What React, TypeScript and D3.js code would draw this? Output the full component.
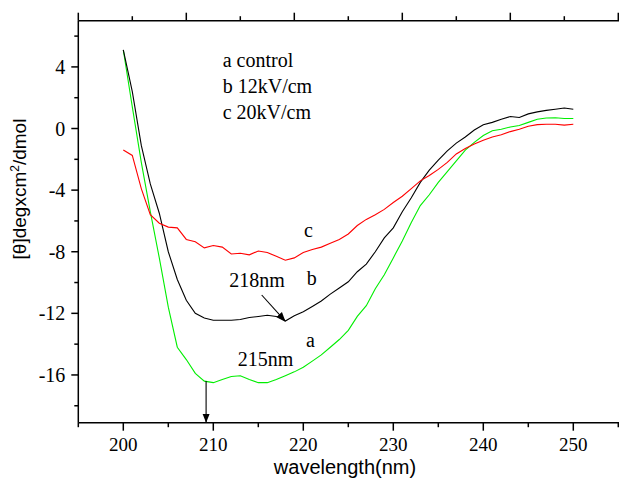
import React from "react";
import * as d3 from "d3";

const wavelengths = d3.range(200, 251);
const seriesA = [5.1, 1.4, -2.2, -5.4, -8.4, -11.6, -14.2, -15.0, -15.9, -16.4, -16.5, -16.3, -16.1, -16.05, -16.3, -16.5, -16.5, -16.3, -16.05, -15.8, -15.5, -15.1, -14.7, -14.2, -13.7, -13.1, -12.2, -11.5, -10.4, -9.5, -8.4, -7.3, -6.1, -5.0, -4.3, -3.5, -2.8, -2.1, -1.4, -0.9, -0.45, -0.15, -0.05, 0.1, 0.2, 0.4, 0.6, 0.68, 0.7, 0.65, 0.65];
const seriesB = [5.1, 2.4, -1.1, -3.6, -5.5, -8.0, -9.8, -11.15, -12.0, -12.3, -12.45, -12.45, -12.45, -12.4, -12.27, -12.2, -12.12, -12.2, -12.5, -12.15, -11.9, -11.55, -11.2, -10.75, -10.35, -9.95, -9.3, -8.8, -8.0, -7.1, -6.45, -5.4, -4.5, -3.5, -2.7, -2.05, -1.45, -0.95, -0.55, -0.1, 0.25, 0.4, 0.6, 0.78, 0.72, 0.95, 1.08, 1.18, 1.25, 1.33, 1.25];
const seriesC = [-1.4, -1.75, -3.9, -5.6, -6.15, -6.4, -6.45, -7.2, -7.35, -7.75, -7.6, -7.7, -8.15, -8.1, -8.2, -7.95, -8.05, -8.3, -8.55, -8.4, -8.05, -7.85, -7.7, -7.45, -7.2, -6.85, -6.3, -5.9, -5.6, -5.25, -4.8, -4.4, -3.9, -3.4, -3.05, -2.65, -2.2, -1.65, -1.3, -1.0, -0.76, -0.55, -0.4, -0.2, -0.05, 0.15, 0.25, 0.28, 0.28, 0.22, 0.28];
const seriesColors = ["#00ee00", "#000000", "#ff0000"];

const xTicks = [200, 210, 220, 230, 240, 250];
const xMinor = [195, 205, 215, 225, 235, 245, 255];
const topMajor = [195, 207, 219, 231, 243, 255];
const topMinor = [201, 213, 225, 237, 249];
const yTicks = [4, 0, -4, -8, -12, -16];
const yMinor = [6, 2, -2, -6, -10, -14, -18];

const legendLines = ["a control", "b 12kV/cm", "c 20kV/cm"];

const SERIF = "'Liberation Serif', 'Times New Roman', serif";
const SANS = "'Liberation Sans', Arial, sans-serif";

export default function App() {
  const W = 619, H = 484;
  const x = d3.scaleLinear().domain([195, 255]).range([78.3, 618.3]);
  const y = d3.scaleLinear().domain([-19.1, 7]).range([422.7, 20.7]);
  const line = d3.line<number>().x((_, i) => x(wavelengths[i])).y((d) => y(d));
  const [y0, y1] = y.range();
  const [x0, x1] = [x(195), W];
  const ax = { stroke: "#000", strokeWidth: 1.5 };

  const arrow1From = [261.7, 295];
  const arrowTip1 = [x(218), y(-12.5)];
  const arrowX2 = x(209.2);

  return (
    <svg width={W} height={H} style={{ position: "absolute", left: 0, top: 0, background: "#fff" }}>
      <defs>
        <marker id="ah" viewBox="0 0 10 10" refX="10" refY="5" markerWidth="9" markerHeight="9" markerUnits="userSpaceOnUse" orient="auto">
          <path d="M0,1 L10,5 L0,9 Z" fill="#000" />
        </marker>
      </defs>
      {[seriesA, seriesB, seriesC].map((s, i) => (
        <path key={i} d={line(s) || ""} fill="none" stroke={seriesColors[i]} strokeWidth={1.1} />
      ))}
      <line x1={x0} x2={x1} y1={y0} y2={y0} {...ax} />
      <line x1={x0} x2={x1} y1={y1} y2={y1} {...ax} />
      <line x1={x0} x2={x0} y1={y1} y2={y0} {...ax} />
      {xTicks.map((t) => (
        <g key={"bx" + t}>
          <line x1={x(t)} x2={x(t)} y1={y0} y2={y0 + 8} {...ax} />
          <text x={x(t)} y={y0 + 28} textAnchor="middle" fontFamily={SERIF} fontSize={19}>{t}</text>
        </g>
      ))}
      {xMinor.map((t) => (
        <line key={"bm" + t} x1={x(t)} x2={x(t)} y1={y0} y2={y0 + 4.5} {...ax} />
      ))}
      {topMajor.map((t) => (
        <line key={"tm" + t} x1={x(t)} x2={x(t)} y1={y1} y2={y1 - 8} {...ax} />
      ))}
      {topMinor.map((t) => (
        <line key={"tn" + t} x1={x(t)} x2={x(t)} y1={y1} y2={y1 - 4.5} {...ax} />
      ))}
      {yTicks.map((t) => (
        <g key={"ly" + t}>
          <line x1={x0} x2={x0 - 7} y1={y(t)} y2={y(t)} {...ax} />
          <text x={x0 - 13} y={y(t)} dy="0.35em" textAnchor="end" fontFamily={SERIF} fontSize={20}>{t}</text>
        </g>
      ))}
      {yMinor.map((t) => (
        <line key={"lm" + t} x1={x0} x2={x0 - 4} y1={y(t)} y2={y(t)} {...ax} />
      ))}
      <text x={345} y={474} textAnchor="middle" fontFamily={SANS} fontSize={20}>wavelength(nm)</text>
      <text transform="translate(26,189) rotate(-90)" textAnchor="middle" fontFamily={SANS} fontSize={19}>
        [θ]degxcm<tspan dy={-7} fontSize={12}>2</tspan><tspan dy={7}>/dmol</tspan>
      </text>
      {legendLines.map((l, i) => (
        <text key={l} x={222.7} y={66.7 + i * 26.3} fontFamily={SERIF} fontSize={20}>{l}</text>
      ))}
      <text x={304} y={236.7} fontFamily={SERIF} fontSize={20}>c</text>
      <text x={306.7} y={285} fontFamily={SERIF} fontSize={20}>b</text>
      <text x={306} y={347.3} fontFamily={SERIF} fontSize={20}>a</text>
      <text x={229.3} y={286.7} fontFamily={SERIF} fontSize={20}>218nm</text>
      <text x={237.7} y={365.7} fontFamily={SERIF} fontSize={20}>215nm</text>
      <line x1={arrow1From[0]} y1={arrow1From[1]} x2={arrowTip1[0]} y2={arrowTip1[1]} stroke="#000" strokeWidth={1.1} markerEnd="url(#ah)" />
      <line x1={arrowX2} y1={y(-16.4)} x2={arrowX2} y2={y0} stroke="#000" strokeWidth={1.1} markerEnd="url(#ah)" />
    </svg>
  );
}
